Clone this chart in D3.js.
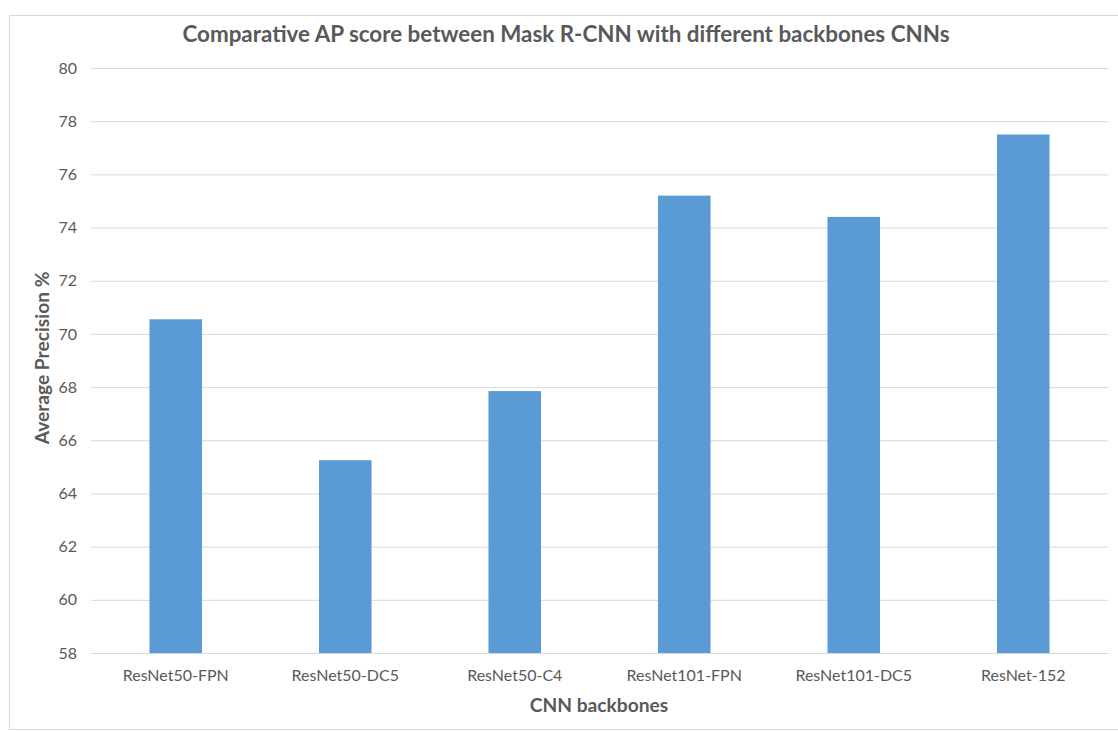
<!DOCTYPE html>
<html>
<head>
<meta charset="utf-8">
<script src="https://cdn.jsdelivr.net/npm/d3@7"></script>
<style>
  html, body { margin: 0; padding: 0; background: #fff; }
  svg { display: block; }
</style>
</head>
<body>
<svg id="chart" width="1118" height="731"></svg>
<script>
// Backbone names and their average precision (%)
const backbones = ["ResNet50-FPN", "ResNet50-DC5", "ResNet50-C4", "ResNet101-FPN", "ResNet101-DC5", "ResNet-152"];
const apValues = [70.55, 65.25, 67.85, 75.2, 74.4, 77.5];
const yTicks = [58, 60, 62, 64, 66, 68, 70, 72, 74, 76, 78, 80];

const titleText = "Comparative AP score between Mask R-CNN with different backbones CNNs";
const xTitle = "CNN backbones";
const yTitle = "Average Precision %";

const svg = d3.select("#chart");
const plot = { left: 91, right: 1108, top: 68, bottom: 653 };
const font = "Lato, 'Open Sans', sans-serif";
const textGray = "#595959";

// chart area frame
svg.append("rect")
  .attr("x", 9.5).attr("y", 15.5)
  .attr("width", 1130).attr("height", 714)
  .attr("fill", "#fff").attr("stroke", "#d9d9d9").attr("stroke-width", 1);

const x = d3.scaleBand().domain(backbones).range([plot.left, plot.right]).paddingInner(0.69).paddingOuter(0.345);
const y = d3.scaleLinear().domain([58, 80]).range([plot.bottom, plot.top]);

// horizontal gridlines + y tick labels
const yAxis = d3.axisLeft(y).tickValues(yTicks).tickSize(-(plot.right - plot.left)).tickPadding(14).tickFormat(d3.format("d"));
const gy = svg.append("g").attr("transform", `translate(${plot.left},0)`).call(yAxis);
gy.select(".domain").remove();
gy.selectAll(".tick line").attr("stroke", "#d9d9d9").attr("stroke-width", 1);
gy.selectAll(".tick text").attr("fill", textGray).style("font-family", font).style("font-size", "16px");

// bars
svg.append("g").selectAll("rect")
  .data(backbones.map((b, i) => ({ b, v: apValues[i] })))
  .join("rect")
  .attr("x", d => x(d.b))
  .attr("y", d => y(d.v))
  .attr("width", x.bandwidth())
  .attr("height", d => y(58) - y(d.v))
  .attr("fill", "#5b9bd5");

// category axis
const xAxis = d3.axisBottom(x).tickSize(0).tickPadding(17);
const gx = svg.append("g").attr("transform", `translate(0,${plot.bottom})`).call(xAxis);
gx.select(".domain").attr("stroke", "#d9d9d9");
gx.selectAll(".tick text").attr("fill", textGray).style("font-family", font).style("font-size", "16px");

// titles
svg.append("text")
  .attr("x", 566).attr("y", 42)
  .attr("text-anchor", "middle")
  .attr("fill", textGray)
  .style("font-family", font).style("font-size", "22.4px").style("font-weight", "bold")
  .text(titleText);

svg.append("text")
  .attr("x", 599).attr("y", 712)
  .attr("text-anchor", "middle")
  .attr("fill", textGray)
  .style("font-family", font).style("font-size", "19.2px").style("font-weight", "bold")
  .text(xTitle);

svg.append("text")
  .attr("transform", `translate(49,358) rotate(-90)`)
  .attr("text-anchor", "middle")
  .attr("fill", textGray)
  .style("font-family", font).style("font-size", "19.2px").style("font-weight", "bold")
  .text(yTitle);
</script>
</body>
</html>
